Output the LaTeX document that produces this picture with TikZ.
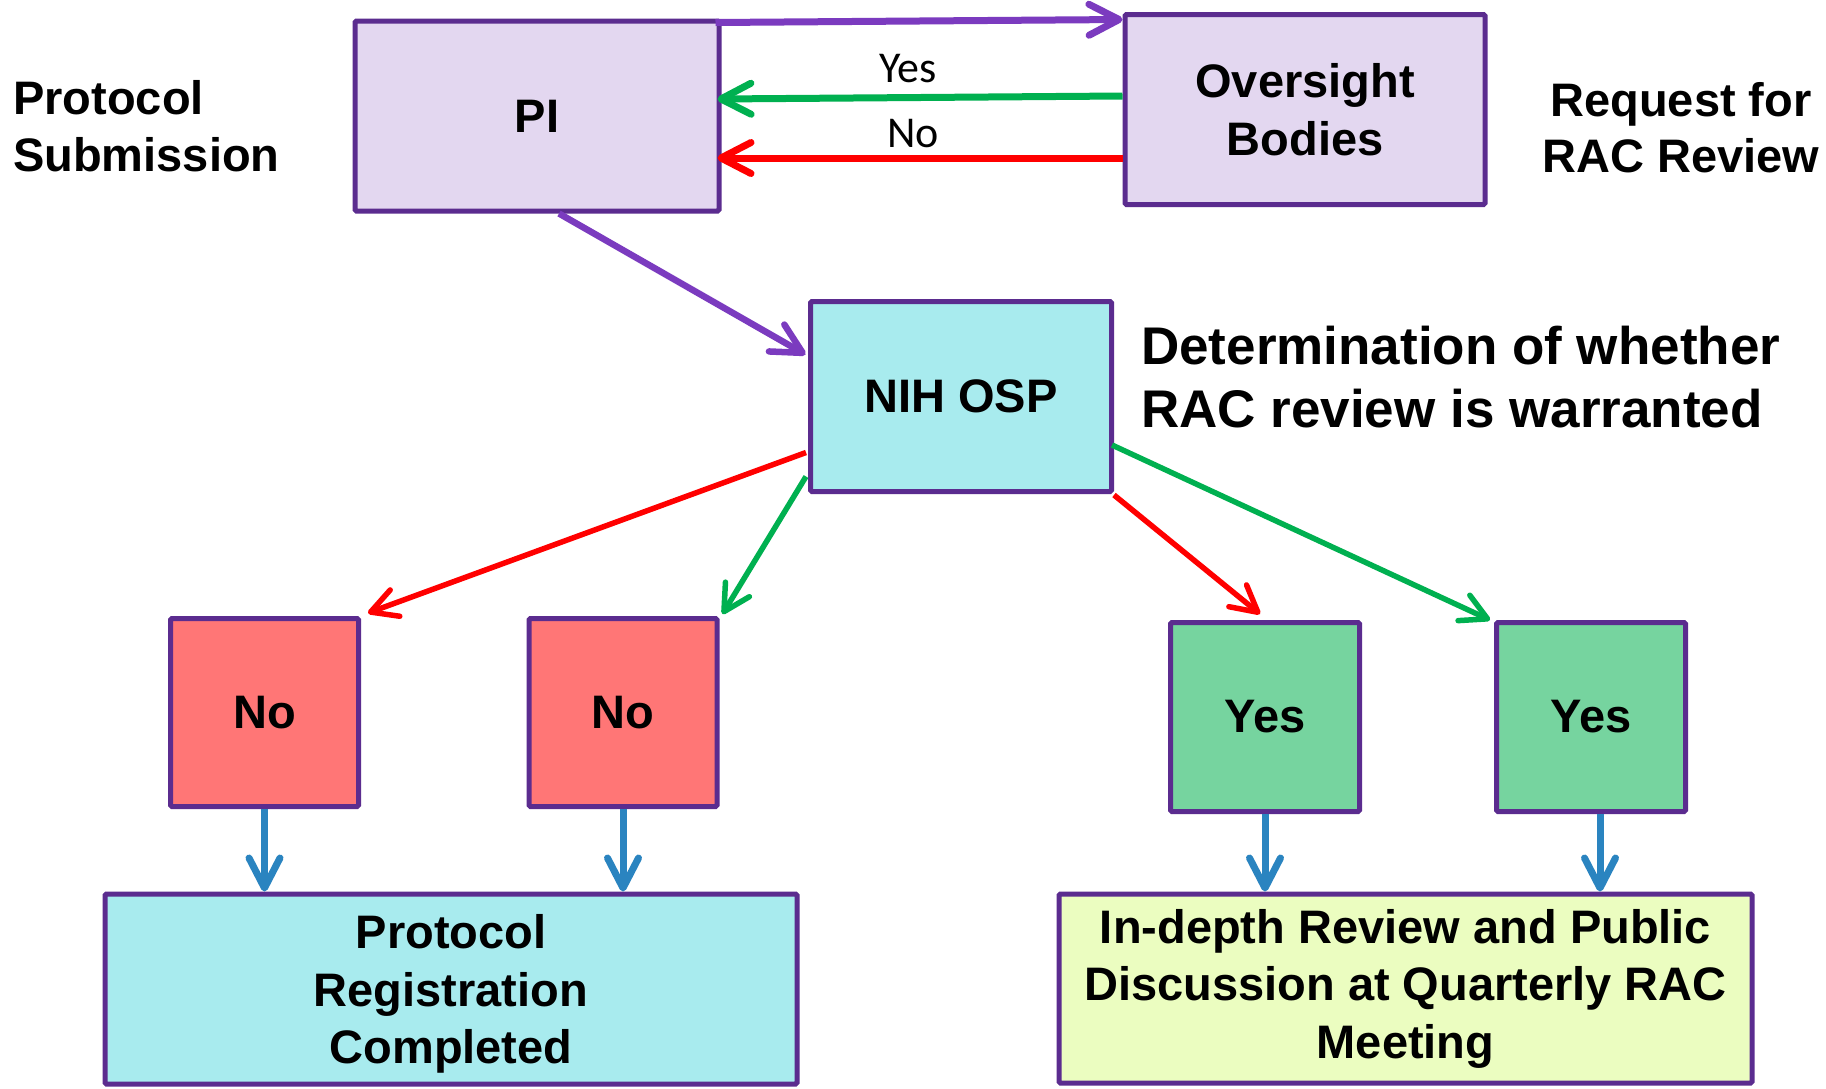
\documentclass[tikz,border=0pt]{standalone}
\usepackage{fontspec}
\setmainfont{Liberation Sans}
\newfontfamily\calib{Carlito}
\usetikzlibrary{arrows.meta,calc}
\definecolor{bordc}{HTML}{5B2C8F}
\definecolor{purpA}{HTML}{7B3BBF}
\definecolor{lavF}{HTML}{E3D7F0}
\definecolor{cyanF}{HTML}{A8EBEE}
\definecolor{noF}{HTML}{FF7676}
\definecolor{yesF}{HTML}{76D49F}
\definecolor{limeF}{HTML}{EBFDC0}
\definecolor{redA}{HTML}{FF0000}
\definecolor{greenA}{HTML}{00B050}
\definecolor{blueA}{HTML}{2A84C0}
\tikzset{
  box/.style={draw=bordc, line width=5pt, rectangle, rounded corners=1.5pt, inner sep=0pt,
    align=center, font=\bfseries\fontsize{47}{57.5}\selectfont},
  lbl/.style={inner sep=0pt, font=\bfseries\fontsize{47}{56.5}\selectfont},
  elbl/.style={inner sep=0pt, font=\calib\fontsize{44}{50}\selectfont},
  thickarr/.style={line width=7pt, -{Straight Barb[length=30pt,width=31pt,round]}},
  thinarr/.style={line width=5.5pt, -{Straight Barb[length=26pt,width=28pt,round]}},
}
\begin{document}
\begin{tikzpicture}[x=1pt,y=-1pt]
\fill[white] (0,0) rectangle (1826,1088);
\useasboundingbox (0,0) rectangle (1826,1088);

% boxes
\node[box, fill=lavF, minimum width=364pt, minimum height=190pt] (PI) at (537,116) {PI};
\node[box, fill=lavF, minimum width=360pt, minimum height=190pt] (OB) at (1305,109.5) {Oversight\\Bodies};
\node[box, fill=cyanF, minimum width=301pt, minimum height=190pt] (NIH) at (961,396.5) {NIH OSP};
\node[box, fill=noF, minimum width=188pt, minimum height=188pt] (No1) at (264.5,712.5) {No};
\node[box, fill=noF, minimum width=188pt, minimum height=188pt] (No2) at (623,712.5) {No};
\node[box, fill=yesF, minimum width=189pt, minimum height=189pt] (Yes1) at (1265,717) {Yes};
\node[box, fill=yesF, minimum width=189pt, minimum height=189pt] (Yes2) at (1591,717) {Yes};
\node[box, fill=cyanF, minimum width=692pt, minimum height=190pt, text depth=0pt] (PR) at (451,989) {Protocol\\Registration\\Completed};
\node[box, fill=limeF, minimum width=693pt, minimum height=189pt] (ID) at (1405.5,988.5) {In-depth Review and Public\\Discussion at Quarterly RAC\\Meeting};

% free texts
\node[lbl, anchor=west, align=left] (PS) at (13,126) {Protocol\\Submission};
\node[lbl, align=center] (RR) at (1681,127.5) {Request for\\RAC Review};
\node[inner sep=0pt, anchor=west, align=left, font=\bfseries\fontsize{53}{63}\selectfont] (DT) at (1141,377) {Determination of whether\\RAC review is warranted};

% top connectors
\draw[thickarr, purpA] ($(PI.north east)+(-6,4)$) -- ($(OB.north west)+(0,7.5)$);
\draw[thickarr, greenA] ($(OB.west)+(0,-13.5)$) -- ($(PI.east)+(-4,-17)$);
\draw[thickarr, redA] ($(OB.west)+(0,48.5)$) -- ($(PI.east)+(-4,42)$);
\node[elbl, anchor=base] (lyes) at (908,82) {Yes};
\node[elbl, anchor=base] (lno) at (913,147) {No};

% PI to NIH
\draw[thickarr, purpA, line width=6.5pt] ($(PI.south)+(22,0)$) -- ($(NIH.north west)+(-2.5,55.5)$);

% NIH to decisions
\draw[thinarr, redA] ($(NIH.west)+(-2,56)$) -- ($(No1.north east)+(7,-3)$);
\draw[thinarr, greenA] ($(NIH.west)+(-2,80)$) -- ($(No2.north east)+(3,-2)$);
\draw[thinarr, redA] ($(NIH.south east)+(0,1)$) -- ($(Yes1.north)+(-5,-6)$);
\draw[thinarr, greenA] ($(NIH.east)+(-2,48.5)$) -- ($(Yes2.north west)+(-4,0)$);

% down arrows
\draw[thickarr, blueA] (No1.south) -- (No1.south |- PR.north);
\draw[thickarr, blueA] (No2.south) -- (No2.south |- PR.north);
\draw[thickarr, blueA] (Yes1.south) -- (Yes1.south |- ID.north);
\draw[thickarr, blueA] ($(Yes2.south)+(9,0)$) coordinate (y2s) -- (y2s |- ID.north);
\end{tikzpicture}
\end{document}
